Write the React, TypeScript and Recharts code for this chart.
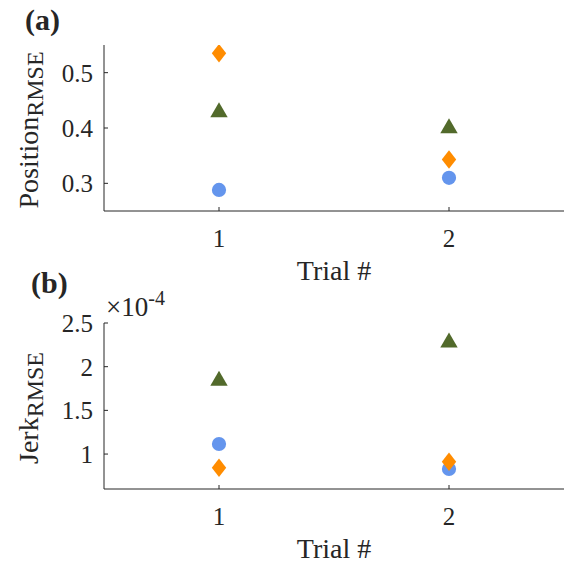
import React from 'react';
import { ScatterChart, Scatter, XAxis, YAxis, Label } from 'recharts';

const trials = [1, 2];

// panel (a): position RMSE
const posCircle = [0.288, 0.31];
const posDiamond = [0.535, 0.343];
const posTriangle = [0.433, 0.404];
const posTicks = [0.3, 0.4, 0.5];

// panel (b): jerk RMSE
const jerkCircle = [1.115e-4, 0.829e-4];
const jerkDiamond = [0.844e-4, 0.912e-4];
const jerkTriangle = [1.867e-4, 2.305e-4];
const jerkTicks = [1e-4, 1.5e-4, 2e-4, 2.5e-4];

const serif = "'Liberation Serif', 'Times New Roman', serif";
const ink = '#262626';

const toPoints = (vals: number[]) => trials.map((t, i) => ({ trial: t, value: vals[i] }));

const CircleMark = (p: any) => <circle cx={p.cx} cy={p.cy} r={7.1} fill="#6495ED" />;

const DiamondMark = (p: any) => {
    const { cx, cy } = p;
    return <path d={`M${cx},${cy - 9.3}L${cx + 7.2},${cy}L${cx},${cy + 9.3}L${cx - 7.2},${cy}Z`} fill="#FF8C00" />;
};

const TriangleMark = (p: any) => {
    const { cx, cy } = p;
    return <path d={`M${cx},${cy - 7.5}L${cx + 8.7},${cy + 7.5}L${cx - 8.7},${cy + 7.5}Z`} fill="#526A2B" />;
};

const YTitle = ({ viewBox, main, sub }: any) => {
    const cy = viewBox.y + viewBox.height / 2 + 2;
    return (
        <text transform={`translate(38, ${cy}) rotate(-90)`} textAnchor="middle" fill={ink} fontFamily={serif}>
            <tspan fontSize={28}>{main}</tspan>
            <tspan fontSize={24} dy={5}>{sub}</tspan>
        </text>
    );
};

interface PanelProps {
    top: number;
    circle: number[];
    diamond: number[];
    triangle: number[];
    domain: [number, number];
    ticks: number[];
    yName: string;
    fmt?: (v: number) => string;
}

const Panel: React.FC<PanelProps> = ({ top, circle, diamond, triangle, domain, ticks, yName, fmt }) => (
    <div style={{ position: 'absolute', left: 0, top, width: 567, height: 287 }}>
        <ScatterChart width={567} height={287} margin={{ top: 45, right: 3, bottom: 0, left: 0 }}>
            <XAxis
                type="number"
                dataKey="trial"
                domain={[0.5, 2.5]}
                ticks={trials}
                height={76}
                stroke={ink}
                tickSize={-4}
                tickMargin={22}
                tick={{ fontSize: 25, fill: ink, fontFamily: serif }}
            >
                <Label value="Trial #" position="insideBottom" offset={7} fontSize={28} fill={ink} fontFamily={serif} />
            </XAxis>
            <YAxis
                type="number"
                dataKey="value"
                domain={domain}
                ticks={ticks}
                width={104}
                stroke={ink}
                tickSize={-4}
                tickMargin={15}
                tickFormatter={fmt}
                tick={{ fontSize: 25, fill: ink, fontFamily: serif }}
                allowDataOverflow
            >
                <Label content={(props: any) => <YTitle viewBox={props.viewBox} main={yName} sub="RMSE" />} />
            </YAxis>
            <Scatter data={toPoints(circle)} shape={CircleMark} isAnimationActive={false} />
            <Scatter data={toPoints(diamond)} shape={DiamondMark} isAnimationActive={false} />
            <Scatter data={toPoints(triangle)} shape={TriangleMark} isAnimationActive={false} />
        </ScatterChart>
    </div>
);

const jerkFmt = (v: number) => String(Number((v * 1e4).toFixed(2)));

export default function App() {
    return (
        <div style={{ position: 'absolute', left: 0, top: 0, width: 567, height: 565, background: '#fff', fontFamily: serif, color: ink, overflow: 'hidden' }}>
            <Panel top={0} circle={posCircle} diamond={posDiamond} triangle={posTriangle}
                domain={[0.25, 0.55]} ticks={posTicks} yName="Position" />
            <Panel top={278} circle={jerkCircle} diamond={jerkDiamond} triangle={jerkTriangle}
                domain={[0.6e-4, 2.5e-4]} ticks={jerkTicks} yName="Jerk" fmt={jerkFmt} />
            <div style={{ position: 'absolute', left: 25, top: 2, fontSize: 30, fontWeight: 'bold', lineHeight: '36px' }}>(a)</div>
            <div style={{ position: 'absolute', left: 31, top: 265, fontSize: 30, fontWeight: 'bold', lineHeight: '36px' }}>(b)</div>
            <div style={{ position: 'absolute', left: 106, top: 292, fontSize: 27, lineHeight: '30px', whiteSpace: 'nowrap' }}>
                ×10<sup style={{ fontSize: 20, verticalAlign: 'baseline', position: 'relative', top: -11 }}>-4</sup>
            </div>
        </div>
    );
}
